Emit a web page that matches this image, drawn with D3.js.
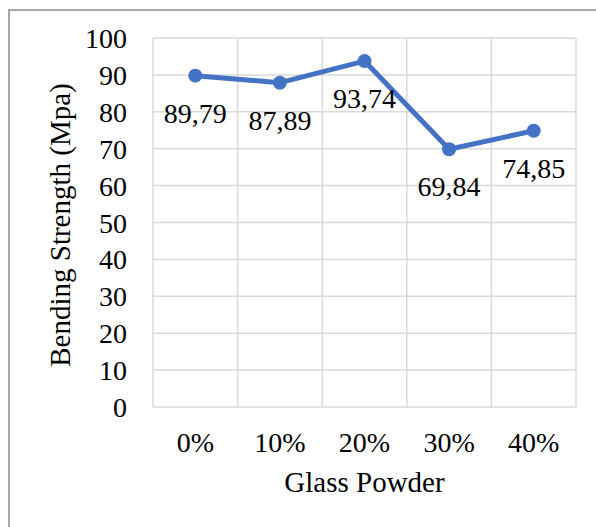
<!DOCTYPE html>
<html>
<head>
<meta charset="utf-8">
<script src="https://cdn.jsdelivr.net/npm/d3@7"></script>
<style>
  body { margin: 0; background: #fff; }
  svg text { font-family: "Liberation Serif", "Times New Roman", "DejaVu Serif", serif; fill: #000; }
</style>
</head>
<body>
<div id="chart"></div>
<script>
// Chart data
const categories = ["0%", "10%", "20%", "30%", "40%"];
const strength = [89.79, 87.89, 93.74, 69.84, 74.85];
const labels = ["89,79", "87,89", "93,74", "69,84", "74,85"];
const yTicks = [0, 10, 20, 30, 40, 50, 60, 70, 80, 90, 100];

const W = 596, H = 527;
const margin = { top: 38, right: 20, bottom: 120, left: 153 },
    width = 576 - margin.left,
    height = 407 - margin.top;

const svg = d3.select("#chart")
    .append("svg")
    .attr("width", W)
    .attr("height", H);

// outer chart border
svg.append("rect")
    .attr("x", 9).attr("y", 10)
    .attr("width", W + 10).attr("height", H + 10)
    .attr("fill", "none")
    .attr("stroke", "#a6a6a6")
    .attr("stroke-width", 2);

const g = svg.append("g")
    .attr("transform", `translate(${margin.left},${margin.top})`);

const x = d3.scaleBand()
    .domain(categories)
    .range([0, width]);

const y = d3.scaleLinear()
    .domain([0, 100])
    .range([height, 0]);

// horizontal gridlines
g.append("g")
    .selectAll("line")
    .data(yTicks)
    .enter()
    .append("line")
    .attr("x1", 0).attr("x2", width)
    .attr("y1", d => y(d)).attr("y2", d => y(d))
    .attr("stroke", "#d9d9d9")
    .attr("stroke-width", 1.5);

// vertical gridlines at band edges
const edges = categories.map(c => x(c)).concat([width]);
g.append("g")
    .selectAll("line")
    .data(edges)
    .enter()
    .append("line")
    .attr("x1", d => d).attr("x2", d => d)
    .attr("y1", 0).attr("y2", height)
    .attr("stroke", "#d9d9d9")
    .attr("stroke-width", 1.5);

// Y axis
const yAxis = g.append("g")
    .call(d3.axisLeft(y).tickValues(yTicks).tickSize(0).tickPadding(26));
yAxis.select(".domain").remove();
yAxis.selectAll("text")
    .style("font-size", "28px")
    .attr("dy", "0.34em");

// X axis
const xAxis = g.append("g")
    .attr("transform", `translate(0,${height})`)
    .call(d3.axisBottom(x).tickSize(0).tickPadding(25));
xAxis.select(".domain").remove();
xAxis.selectAll("text")
    .style("font-size", "28px");

// axis titles
g.append("text")
    .attr("x", width / 2)
    .attr("y", height + 85)
    .attr("text-anchor", "middle")
    .style("font-size", "29px")
    .text("Glass Powder");

g.append("text")
    .attr("transform", "rotate(-90)")
    .attr("x", -(225 - margin.top))
    .attr("y", -83)
    .attr("text-anchor", "middle")
    .style("font-size", "29px")
    .text("Bending Strength (Mpa)");

// line
const line = d3.line()
    .x((d, i) => x(categories[i]) + x.bandwidth() / 2)
    .y(d => y(d));

g.append("path")
    .datum(strength)
    .attr("d", line)
    .attr("fill", "none")
    .attr("stroke", "#4472c4")
    .attr("stroke-width", 5)
    .attr("stroke-linejoin", "round");

// markers
g.append("g")
    .selectAll("circle")
    .data(strength)
    .enter()
    .append("circle")
    .attr("cx", (d, i) => x(categories[i]) + x.bandwidth() / 2)
    .attr("cy", d => y(d))
    .attr("r", 7)
    .attr("fill", "#4472c4");

// data labels below points
g.append("g")
    .selectAll("text")
    .data(strength)
    .enter()
    .append("text")
    .attr("x", (d, i) => x(categories[i]) + x.bandwidth() / 2)
    .attr("y", d => y(d) + 47)
    .attr("text-anchor", "middle")
    .style("font-size", "28px")
    .text((d, i) => labels[i]);
</script>
</body>
</html>
